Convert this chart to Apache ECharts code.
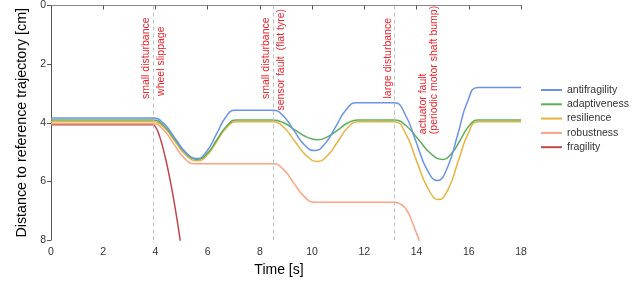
<!DOCTYPE html>
<html><head><meta charset="utf-8">
<script src="https://cdn.jsdelivr.net/npm/echarts@6/dist/echarts.min.js"></script>
<style>html,body{margin:0;padding:0;background:#fff}#c{width:640px;height:298px}</style>
</head><body><div id="c"></div>
<script>
const seriesNames = ['antifragility', 'adaptiveness', 'resilience', 'robustness', 'fragility'];
const xTicks = [0, 2, 4, 6, 8, 10, 12, 14, 16, 18];
const yTicks = [0, 2, 4, 6, 8];

const antifragility = [[0,3.84],[3.9,3.84],[4.33,4.04],[4.75,4.53],[5.17,5.02],[5.6,5.22],
  [5.96,4.98],[6.33,4.40],[6.69,3.81],[7.05,3.57],[8.5,3.57],
  [8.9,3.77],[9.3,4.26],[9.7,4.75],[10.1,4.95],
  [10.5,4.71],[10.9,4.14],[11.3,3.56],[11.7,3.32],[13.15,3.32],
  [13.56,3.71],[13.98,4.65],[14.39,5.58],[14.8,5.97],
  [15.19,5.51],[15.58,4.39],[15.96,3.26],[16.35,2.8],[18,2.8]];
const adaptiveness = [[0,3.91],[3.9,3.91],[4.33,4.11],[4.75,4.58],[5.17,5.05],[5.6,5.25],
  [5.98,5.05],[6.35,4.58],[6.73,4.11],[7.1,3.91],[8.5,3.91],
  [8.93,4.01],[9.35,4.25],[9.78,4.48],[10.2,4.58],
  [10.59,4.48],[10.98,4.25],[11.36,4.01],[11.75,3.91],[13.15,3.91],
  [13.61,4.11],[14.08,4.58],[14.54,5.05],[15.0,5.25],
  [15.34,5.05],[15.68,4.58],[16.01,4.11],[16.35,3.91],[18,3.91]];
const resilience = [[0,3.97],[3.9,3.97],[4.33,4.16],[4.75,4.64],[5.17,5.11],[5.6,5.3],
  [5.98,5.11],[6.35,4.64],[6.73,4.16],[7.1,3.97],[8.5,3.97],
  [8.93,4.17],[9.35,4.65],[9.78,5.12],[10.2,5.32],
  [10.59,5.12],[10.98,4.65],[11.36,4.17],[11.75,3.97],[13.15,3.97],
  [13.58,4.36],[14.0,5.30],[14.43,6.23],[14.85,6.62],
  [15.23,6.23],[15.6,5.30],[15.98,4.36],[16.35,3.97],[18,3.97]];
const robustness = [[0,4.03],[3.9,4.03],[4.3,4.23],[4.7,4.72],[5.1,5.2],[5.5,5.4],[8.5,5.4],
  [8.9,5.59],[9.3,6.06],[9.7,6.52],[10.1,6.71],[13.15,6.71],
  [13.4,6.78],[13.6,6.95],[13.75,7.2],[13.9,7.55],[14.1,8.0],[14.25,8.4]];
const fragility = [[0,4.07],[3.9,4.07],[4.0,4.14],[4.1,4.32],[4.2,4.58],[4.3,4.9],[4.4,5.27],
  [4.5,5.68],[4.6,6.13],[4.7,6.62],[4.8,7.15],[4.9,7.72],[5.0,8.32]];

const eventTimes = [3.9, 8.5, 13.15];
const annotationTexts = ['small disturbance', 'wheel slippage', 'small disturbance',
  'sensor fault  (flat tyre)', 'large disturbance', 'actuator fault\n(periodic motor shaft bump)'];
const annotationAnchors = [[3.9,1.8],[3.9,1.9],[8.5,1.8],[8.5,1.85],[13.15,1.8],[13.15,4.39]];
const annotationSides = ['left','right','left','right','left','far'];

const colors = ['#6a93e8', '#5cb05c', '#e8b440', '#fba383', '#c0484c'];
const allData = [antifragility, adaptiveness, resilience, robustness, fragility];

const chart = echarts.init(document.getElementById('c'), null, {renderer: 'canvas'});
const font = '"Liberation Sans", Arial, sans-serif';

const series = seriesNames.map((n, i) => ({
  name: n, type: 'line', data: allData[i], smooth: 0.5,
  symbol: 'none', showSymbol: false, clip: true, z: 5 - i,
  lineStyle: {width: 1.5, color: colors[i]}, itemStyle: {color: colors[i]}
}));
series[0].markLine = {
  silent: true, symbol: 'none', label: {show: false},
  lineStyle: {type: [4, 3], color: '#c0c0c0', width: 1},
  data: eventTimes.map(t => ({xAxis: t}))
};

chart.setOption({
  animation: false,
  textStyle: {fontFamily: font},
  grid: {left: 51, right: 119, top: 5, bottom: 58},
  xAxis: [{
    type: 'value', min: 0, max: 18, interval: 2,
    axisLine: {show: true, lineStyle: {color: '#555', width: 1}},
    axisTick: {show: true, length: 4, lineStyle: {color: '#555'}},
    axisLabel: {color: '#333', fontSize: 10.5, margin: 7, fontFamily: font},
    splitLine: {show: false},
    name: 'Time [s]', nameLocation: 'middle', nameGap: 23,
    nameTextStyle: {color: '#000', fontSize: 14, fontFamily: font, padding: [0, 14, 0, 0]}
  }, {
    type: 'value', position: 'top', min: 0, max: 18,
    axisLine: {show: true, onZero: false, lineStyle: {color: '#888', width: 1}},
    axisTick: {show: false}, axisLabel: {show: false}, splitLine: {show: false}
  }],
  yAxis: {
    type: 'value', min: 0, max: 8, interval: 2, inverse: true,
    axisLine: {show: true, lineStyle: {color: '#555', width: 1}},
    axisTick: {show: true, length: 4, lineStyle: {color: '#555'}},
    axisLabel: {color: '#333', fontSize: 10.5, margin: 5, fontFamily: font},
    splitLine: {show: false},
    name: 'Distance to reference trajectory [cm]', nameLocation: 'middle', nameGap: 21,
    nameTextStyle: {color: '#000', fontSize: 14.3, fontFamily: font}
  },
  legend: {
    orient: 'vertical', left: 536, top: 79, itemWidth: 21, itemHeight: 2, itemGap: 2.3,
    icon: 'rect',
    textStyle: {color: '#333', fontSize: 10.5, fontFamily: font, lineHeight: 12},
    data: seriesNames
  },
  series: series
});

const graphics = annotationTexts.map((txt, i) => {
  const p = chart.convertToPixel({gridIndex: 0}, annotationAnchors[i]);
  const side = annotationSides[i];
  let dx = side === 'left' ? -1 : (side === 'right' ? 2.5 : 23);
  return {
    type: 'text', x: p[0] + dx, y: p[1], rotation: Math.PI / 2, z: 10,
    style: {
      text: txt, fill: '#e8242c', font: '10.5px ' + font,
      align: side === 'far' ? 'left' : 'center', textAlign: side === 'far' ? 'left' : 'center',
      verticalAlign: side === 'left' ? 'bottom' : 'top',
      textVerticalAlign: side === 'left' ? 'bottom' : 'top',
      lineHeight: 11
    }
  };
});
chart.setOption({graphic: graphics});
</script></body></html>
